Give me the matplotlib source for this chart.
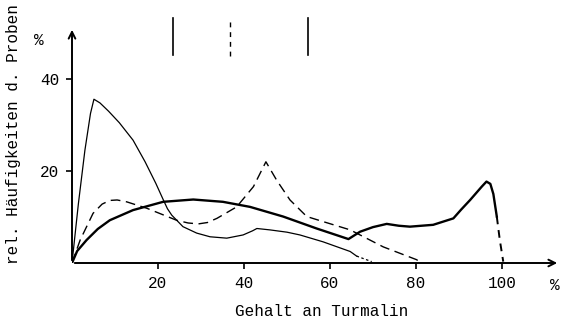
import matplotlib
matplotlib.use("Agg")
from matplotlib import pyplot as plt

# thin solid curve (sharp early peak)
thin_x = [0, 1.5, 3, 4.3, 5.1, 6.5, 8.5, 11, 14.2, 17, 19.5, 21.2, 22.2, 23.2, 25.8, 29, 32.1, 36, 39.8, 42, 43, 46, 50, 53, 58.4, 62, 64.7, 66.2]
thin_y = [0, 13, 24.5, 32.5, 35.6, 34.8, 33, 30.5, 26.7, 22, 17.3, 13.8, 11.8, 10.4, 7.9, 6.5, 5.7, 5.4, 6.1, 7.0, 7.5, 7.2, 6.7, 6.1, 4.6, 3.4, 2.5, 1.5]
thin_tail_x = [66.2, 69.7]
thin_tail_y = [1.5, 0.3]

# thick solid curve (broad hump + peak near 97 %)
thick_x = [0, 1.2, 3.4, 6, 8.8, 14.2, 21.2, 28.2, 35.1, 41.4, 49.1, 56.9, 64.3, 67, 70, 73.2, 76, 78.6, 84, 88.7, 90.5, 92.6, 95.3, 96.4, 97.3, 98, 98.8]
thick_y = [0, 2.6, 5, 7.4, 9.3, 11.5, 13.3, 13.8, 13.3, 12.2, 10.1, 7.5, 5.2, 6.8, 7.8, 8.5, 8.1, 7.9, 8.3, 9.7, 11.6, 13.7, 16.6, 17.7, 17.2, 15, 10.1]
thick_tail_x = [98.8, 99.5, 100.3]
thick_tail_y = [10.1, 5, 0.3]

# dashed curve (peak near 45 %)
dash_x = [0, 1.9, 4.9, 7, 8.8, 10.5, 12.7, 17.4, 24.3, 27, 29.4, 31.5, 33.7, 38.3, 42.2, 45.1, 47.6, 50.7, 54.6, 58.4, 64.7, 72.4, 80.2, 81]
dash_y = [0, 5, 10.8, 12.8, 13.6, 13.7, 13.3, 11.9, 9.3, 8.7, 8.5, 8.8, 9.7, 12.2, 16.6, 22, 18, 13.7, 10.1, 9, 7.2, 3.5, 0.7, 0]

# vertical markers at the top
marker_solid = [23.4, 54.9]
marker_dashed = [36.7]

x_ticks = [20, 40, 60, 80, 100]
y_ticks = [20, 40]

plt.rcParams['font.family'] = ['Liberation Mono', 'DejaVu Sans Mono']
fs = 11.5

fig = plt.figure(figsize=(5.63, 3.23), dpi=100)
W, H = 563.0, 323.0
x0, y0 = 72.0, 263.0
xmax, ymax = 113.5, 51.3
ax = fig.add_axes([x0 / W, (H - y0) / H, 488 / W, (y0 - 27) / H])
ax.set_xlim(0, xmax)
ax.set_ylim(0, ymax)

for s in ax.spines.values():
    s.set_visible(False)

# axes with open arrow heads
ax.annotate("", xy=(1, 0), xytext=(0, 0), xycoords="axes fraction",
            arrowprops=dict(arrowstyle="->", lw=1.4, color="black", mutation_scale=12))
ax.annotate("", xy=(0, 1), xytext=(0, 0), xycoords="axes fraction",
            arrowprops=dict(arrowstyle="->", lw=1.4, color="black", mutation_scale=12))

ax.plot(thin_x, thin_y, color="black", lw=0.9)
ax.plot(thin_tail_x, thin_tail_y, color="black", lw=0.9, dashes=(2, 2))
ax.plot(thick_x, thick_y, color="black", lw=1.7)
ax.plot(thick_tail_x, thick_tail_y, color="black", lw=1.4, dashes=(4, 3))
ax.plot(dash_x, dash_y, color="black", lw=1.0, dashes=(7, 4))

for xm in marker_solid:
    ax.plot([xm, xm], [45.2, 53.3], color="black", lw=1.2, clip_on=False)
for xm in marker_dashed:
    ax.plot([xm, xm], [45.0, 53.2], color="black", lw=1.0, dashes=(3.5, 3.5), clip_on=False)

ax.set_xticks(x_ticks)
ax.set_yticks(y_ticks)
ax.tick_params(direction="out", length=4, width=1.2, labelsize=fs, pad=5)

ax.text(-7.7, 48.3, "%", ha="center", va="center", fontsize=fs, clip_on=False)
ax.text(112.2, -4.9, "%", ha="center", va="center", fontsize=fs, clip_on=False)

fig.text(322 / W, 1 - 312 / H, "Gehalt an Turmalin", ha="center", va="center", fontsize=fs)
fig.text(14 / W, 1 - 134 / H, "rel. Häufigkeiten d. Proben", ha="center", va="center",
         rotation=90, fontsize=fs)

fig.savefig("out.png", dpi=100)
